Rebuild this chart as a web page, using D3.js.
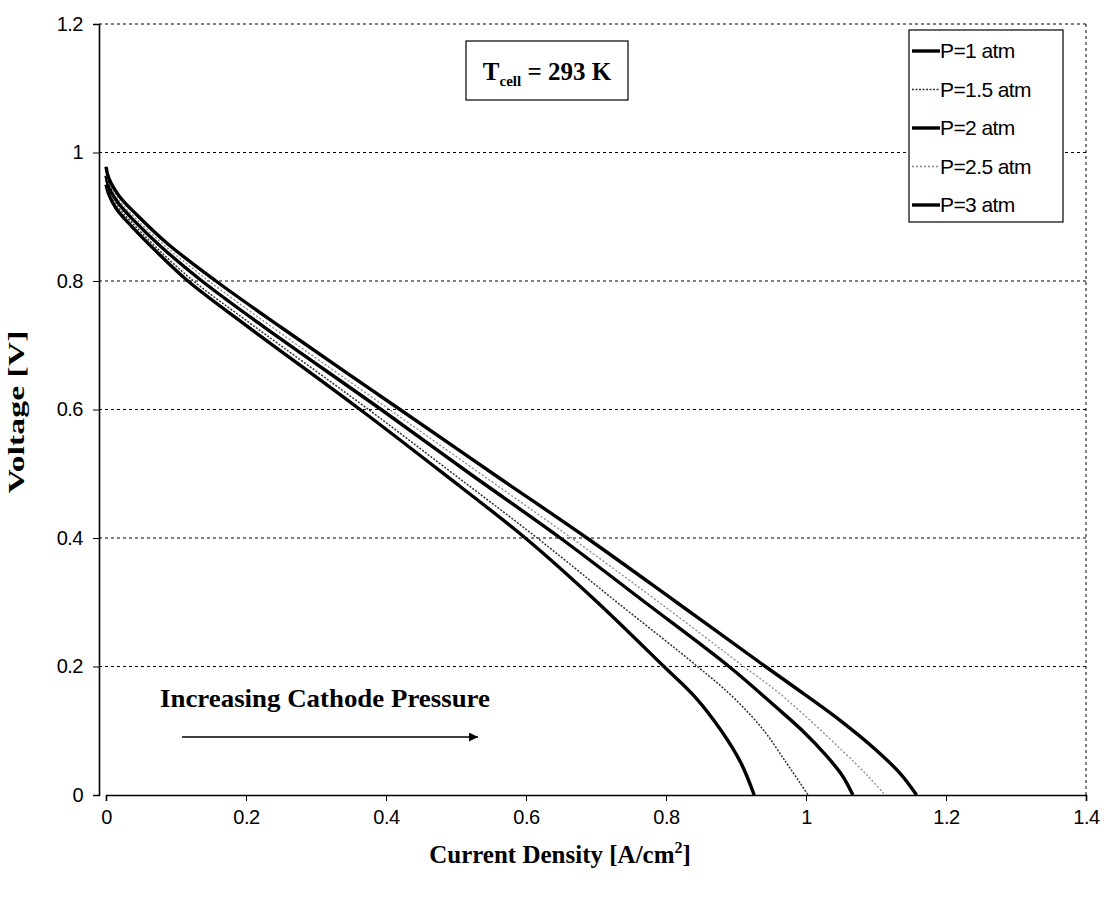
<!DOCTYPE html>
<html>
<head>
<meta charset="utf-8">
<script src="https://cdn.jsdelivr.net/npm/d3@7"></script>
<style>
  html, body { margin: 0; padding: 0; background: #fff; }
  svg { display: block; }
</style>
</head>
<body>
<svg id="chart" width="1114" height="902"></svg>
<script>
// ---- data ----
const seriesNames = ["P=1 atm", "P=1.5 atm", "P=2 atm", "P=2.5 atm", "P=3 atm"];
const p1   = [[0,0.950],[0.004,0.935],[0.015,0.912],[0.035,0.887],[0.07,0.848],[0.117,0.800],[0.2,0.731],[0.363,0.600],[0.48,0.502],[0.599,0.400],[0.70,0.302],[0.797,0.200],[0.842,0.152],[0.879,0.100],[0.907,0.050],[0.926,0]];
const p15  = [[0,0.957],[0.004,0.941],[0.016,0.917],[0.037,0.891],[0.073,0.851],[0.125,0.800],[0.21,0.731],[0.375,0.600],[0.496,0.500],[0.616,0.400],[0.73,0.300],[0.845,0.200],[0.898,0.150],[0.940,0.100],[0.972,0.050],[0.992,0.018],[1.003,0]];
const p2   = [[0,0.964],[0.004,0.947],[0.017,0.922],[0.04,0.894],[0.079,0.853],[0.137,0.800],[0.225,0.729],[0.393,0.600],[0.52,0.500],[0.649,0.400],[0.77,0.300],[0.890,0.200],[0.956,0.138],[0.995,0.100],[1.030,0.060],[1.052,0.030],[1.067,0]];
const p25  = [[0,0.971],[0.004,0.953],[0.018,0.927],[0.042,0.898],[0.083,0.856],[0.147,0.800],[0.235,0.730],[0.405,0.600],[0.535,0.500],[0.665,0.400],[0.79,0.300],[0.911,0.200],[0.96,0.160],[1.005,0.117],[1.050,0.071],[1.088,0.030],[1.113,0]];
const p3   = [[0,0.978],[0.004,0.960],[0.019,0.932],[0.045,0.902],[0.088,0.858],[0.157,0.800],[0.25,0.728],[0.420,0.600],[0.553,0.500],[0.687,0.400],[0.815,0.300],[0.942,0.200],[1.000,0.155],[1.050,0.115],[1.098,0.072],[1.135,0.033],[1.158,0]];
const seriesData = [p1, p15, p2, p25, p3];
const xTicks = [0, 0.2, 0.4, 0.6, 0.8, 1, 1.2, 1.4];
const yTicks = [0, 0.2, 0.4, 0.6, 0.8, 1, 1.2];
const titleMain = "T", titleSub = "cell", titleRest = " = 293 K";
const annotationText = "Increasing Cathode Pressure";
const xTitle = "Current Density [A/cm", xTitleSup = "2", xTitleEnd = "]";
const yTitle = "Voltage [V]";

// ---- styles ----
const styles = [
  {stroke: "#000", width: 3.4, dash: null},
  {stroke: "#333", width: 1.5, dash: "2,1.5"},
  {stroke: "#000", width: 3.4, dash: null},
  {stroke: "#888", width: 1.3, dash: "2,2"},
  {stroke: "#000", width: 3.4, dash: null}
];

const svg = d3.select("#chart");
const sans = "'Liberation Sans', Arial, sans-serif";
const serif = "'Liberation Serif', 'Times New Roman', serif";

const x = d3.scaleLinear().domain([0, 1.4]).range([106, 1086]);
const y = d3.scaleLinear().domain([0, 1.2]).range([795, 24]);

// gridlines
svg.append("g").selectAll("line").data(yTicks.filter(d => d > 0)).join("line")
  .attr("x1", x(0) - 7).attr("x2", x(1.4))
  .attr("y1", d => y(d)).attr("y2", d => y(d))
  .attr("stroke", "#000").attr("stroke-width", 1).attr("stroke-dasharray", "3,3");

// right border (dashed)
svg.append("line").attr("x1", x(1.4)).attr("x2", x(1.4)).attr("y1", y(1.2)).attr("y2", y(0))
  .attr("stroke", "#000").attr("stroke-width", 1).attr("stroke-dasharray", "3,3");

// axes
const xAxis = d3.axisBottom(x).tickValues(xTicks).tickSize(6).tickPadding(9)
  .tickFormat(d => d3.format("")(d));
const gx = svg.append("g").attr("transform", `translate(0,${y(0)})`).call(xAxis);
gx.select(".domain").attr("stroke", "#000").attr("stroke-width", 1.6);
gx.selectAll(".tick line").attr("stroke", "#000");
gx.selectAll(".tick text").attr("font-family", sans).attr("font-size", 20).attr("letter-spacing", -0.5).attr("fill", "#000");

const yAxis = d3.axisLeft(y).tickValues(yTicks).tickSize(6).tickPadding(10)
  .tickFormat(d => d3.format("")(d));
const gy = svg.append("g").attr("transform", `translate(${x(0) - 7},0)`).call(yAxis);
gy.select(".domain").attr("stroke", "#000").attr("stroke-width", 1.6);
gy.selectAll(".tick line").attr("stroke", "#000");
gy.selectAll(".tick text").attr("font-family", sans).attr("font-size", 20).attr("letter-spacing", -0.5).attr("fill", "#000");

// curves
const line = d3.line().x(d => x(d[0])).y(d => y(d[1])).curve(d3.curveCatmullRom.alpha(0.5));
svg.append("g").selectAll("path").data(seriesData).join("path")
  .attr("d", d => line(d))
  .attr("fill", "none")
  .attr("stroke", (d, i) => styles[i].stroke)
  .attr("stroke-width", (d, i) => styles[i].width)
  .attr("stroke-dasharray", (d, i) => styles[i].dash)
  .attr("stroke-linejoin", "round");

// legend
const lg = svg.append("g");
lg.append("rect").attr("x", 909).attr("y", 30).attr("width", 154).attr("height", 192)
  .attr("fill", "#fff").attr("stroke", "#000").attr("stroke-width", 1.2);
seriesNames.forEach((name, i) => {
  const ly = 51 + i * 38.5;
  lg.append("line").attr("x1", 912).attr("x2", 940).attr("y1", ly).attr("y2", ly)
    .attr("stroke", styles[i].stroke).attr("stroke-width", styles[i].width)
    .attr("stroke-dasharray", styles[i].dash);
  lg.append("text").attr("x", 940).attr("y", ly + 7).text(name)
    .attr("font-family", sans).attr("font-size", 21).attr("letter-spacing", -0.6).attr("fill", "#000");
});

// title box
svg.append("rect").attr("x", 466).attr("y", 41).attr("width", 162).attr("height", 59)
  .attr("fill", "#fff").attr("stroke", "#000").attr("stroke-width", 1.2);
const tt = svg.append("text").attr("x", 547).attr("y", 80).attr("text-anchor", "middle")
  .attr("font-family", serif).attr("font-weight", "bold").attr("font-size", 25).attr("fill", "#000");
tt.append("tspan").text(titleMain);
tt.append("tspan").text(titleSub).attr("font-size", 15).attr("dy", 6);
tt.append("tspan").text(titleRest).attr("dy", -6);

// annotation
svg.append("text").attr("x", 160).attr("y", 707).text(annotationText)
  .attr("font-family", serif).attr("font-weight", "bold").attr("font-size", 25).attr("fill", "#000")
  .attr("textLength", 330).attr("lengthAdjust", "spacingAndGlyphs");
svg.append("defs").append("marker").attr("id", "arr").attr("viewBox", "0 0 10 10")
  .attr("refX", 10).attr("refY", 5).attr("markerWidth", 16).attr("markerHeight", 9)
  .attr("markerUnits", "userSpaceOnUse").attr("orient", "auto")
  .append("path").attr("d", "M0,0 L10,5 L0,10 Z").attr("fill", "#000");
svg.append("line").attr("x1", 182).attr("x2", 478).attr("y1", 737).attr("y2", 737)
  .attr("stroke", "#000").attr("stroke-width", 1.6).attr("marker-end", "url(#arr)");

// axis titles
const xt = svg.append("text").attr("x", 560).attr("y", 863).attr("text-anchor", "middle")
  .attr("font-family", serif).attr("font-weight", "bold").attr("font-size", 25).attr("fill", "#000");
xt.append("tspan").text(xTitle);
xt.append("tspan").text(xTitleSup).attr("font-size", 16).attr("dy", -10);
xt.append("tspan").text(xTitleEnd).attr("dy", 10);

svg.append("text").attr("transform", "translate(24,412) rotate(-90)").attr("text-anchor", "middle")
  .text(yTitle).attr("font-family", serif).attr("font-weight", "bold").attr("font-size", 23).attr("fill", "#000")
  .attr("textLength", 163).attr("lengthAdjust", "spacingAndGlyphs");
</script>
</body>
</html>
